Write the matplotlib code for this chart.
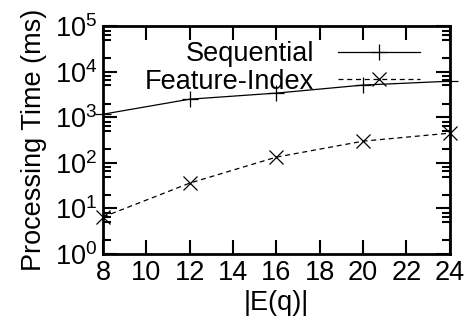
import matplotlib
matplotlib.use("Agg")
import matplotlib.pyplot as plt
from matplotlib.ticker import LogLocator, NullFormatter

plt.rcParams['font.family'] = ['Liberation Sans', 'DejaVu Sans']
plt.rcParams['mathtext.fontset'] = 'custom'
plt.rcParams['mathtext.rm'] = 'Liberation Sans'

edges = [8, 12, 16, 20, 24]
sequential = [1170, 2500, 3400, 5100, 6200]
feature_index = [6.5, 36, 134, 300, 450]

fig = plt.figure(figsize=(4.70, 3.27), dpi=100)
ax = fig.add_axes([0.219, 0.223, 0.738, 0.697])

ax.plot(edges, sequential, color="black", lw=0.9, marker="+", ms=11, mew=0.9,
        label="Sequential", clip_on=False)
ax.plot(edges, feature_index, color="black", lw=0.9, ls=(0, (4, 3)), marker="x",
        ms=10, mew=0.9, label="Feature-Index", clip_on=False)

ax.set_yscale("log")
ax.set_xlim(8, 24)
ax.set_ylim(1, 1e5)
ax.set_xticks(range(8, 25, 2))
ax.yaxis.set_major_locator(LogLocator(base=10, numticks=10))
ax.yaxis.set_minor_locator(LogLocator(base=10, subs=(2, 5, 6.5, 8), numticks=10))
ax.yaxis.set_minor_formatter(NullFormatter())

ax.tick_params(which="both", direction="in", top=True, right=True, labelsize=19.5, pad=4)
ax.tick_params(which="major", length=10, width=1.5)
ax.tick_params(which="minor", length=6, width=1.5)
for s in ax.spines.values():
    s.set_linewidth(2)

ax.set_xlabel("|E(q)|", fontsize=19.5, labelpad=3)
ax.set_ylabel("Processing Time (ms)", fontsize=19.5, labelpad=6)

ax.legend(loc="upper right", bbox_to_anchor=(0.96, 1.005), frameon=False,
          markerfirst=False, fontsize=19.5, handlelength=3.0, handletextpad=0.9,
          labelspacing=0.05, borderaxespad=0.2)

fig.savefig("out.png", dpi=100)
